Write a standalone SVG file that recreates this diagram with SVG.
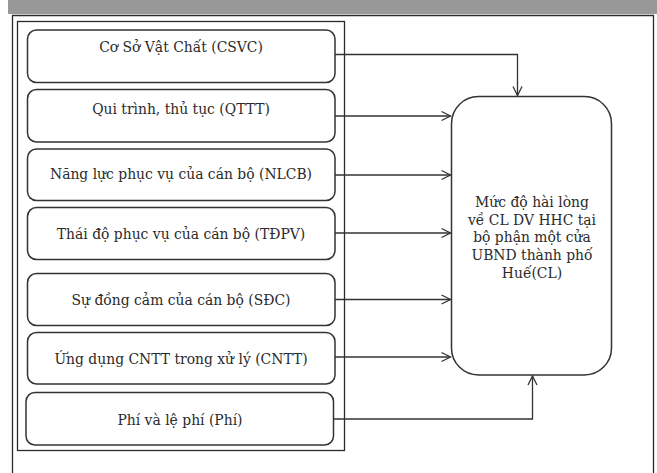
<svg xmlns="http://www.w3.org/2000/svg" width="657" height="473" viewBox="0 0 657 473">
<style>
.frame{fill:none;stroke:#2a2a2a;stroke-width:1.3}
.box{fill:#fff;stroke:#333;stroke-width:1.5}
.t{font-family:"DejaVu Serif","Liberation Serif",serif;font-size:13.9px;fill:#2b2b2b;text-anchor:middle}
.c{fill:none;stroke:#333;stroke-width:1.3}
</style>
<defs>
<marker id="arr" markerWidth="12" markerHeight="12" refX="10" refY="6" orient="auto" markerUnits="userSpaceOnUse">
<polyline points="1,1.5 10,6 1,10.5" fill="none" stroke="#333" stroke-width="1.3"/>
</marker>
</defs>
<rect x="0" y="0" width="657" height="473" fill="#fff"/>
<rect x="8" y="0" width="649" height="14" fill="#989898"/>
<path class="frame" d="M12.5,473 V15.5 H653.5 V473"/>
<rect class="frame" x="17.5" y="21.5" width="327" height="429"/>
<g id="n1"><rect class="box" x="27.5" y="30" width="307.5" height="52.5" rx="9"/><text class="t" x="181" y="52">Cơ Sở Vật Chất (CSVC)</text></g>
<g id="n2"><rect class="box" x="27.5" y="89.5" width="307.5" height="52.5" rx="9"/><text class="t" x="181" y="114">Qui trình, thủ tục (QTTT)</text></g>
<g id="n3"><rect class="box" x="27.5" y="149" width="307.5" height="51.5" rx="9"/><text class="t" x="181" y="179">Năng lực phục vụ của cán bộ (NLCB)</text></g>
<g id="n4"><rect class="box" x="27.5" y="207.5" width="307.5" height="52" rx="9"/><text class="t" x="181" y="239">Thái độ phục vụ của cán bộ (TĐPV)</text></g>
<g id="n5"><rect class="box" x="27.5" y="273.5" width="307.5" height="52" rx="9"/><text class="t" x="181" y="305">Sự đồng cảm của cán bộ (SĐC)</text></g>
<g id="n6"><rect class="box" x="27.5" y="332.5" width="307.5" height="51.5" rx="9"/><text class="t" x="181" y="364">Ứng dụng CNTT trong xử lý (CNTT)</text></g>
<g id="n7"><rect class="box" x="26" y="392.5" width="307.5" height="52.5" rx="9"/><text class="t" x="180" y="425">Phí và lệ phí (Phí)</text></g>
<g id="cl"><rect class="box" x="451.5" y="96.5" width="160" height="278.5" rx="27"/>
<text class="t"><tspan x="532" y="206.5">Mức độ hài lòng</tspan><tspan x="532" y="224.5">về CL DV HHC tại</tspan><tspan x="532" y="242">bộ phận một cửa</tspan><tspan x="532" y="260">UBND thành phố</tspan><tspan x="532" y="277.5">Huế(CL)</tspan></text></g>
<g id="connectors">
<path class="c" d="M335,54.5 H517.5 V95.5" marker-end="url(#arr)"/>
<path class="c" d="M335,116 H450.5" marker-end="url(#arr)"/>
<path class="c" d="M335,175 H450.5" marker-end="url(#arr)"/>
<path class="c" d="M335,233 H450.5" marker-end="url(#arr)"/>
<path class="c" d="M335,299.5 H450.5" marker-end="url(#arr)"/>
<path class="c" d="M335,357 H450.5" marker-end="url(#arr)"/>
<path class="c" d="M333.5,419 H532.5 V376" marker-end="url(#arr)"/>
</g>
</svg>
